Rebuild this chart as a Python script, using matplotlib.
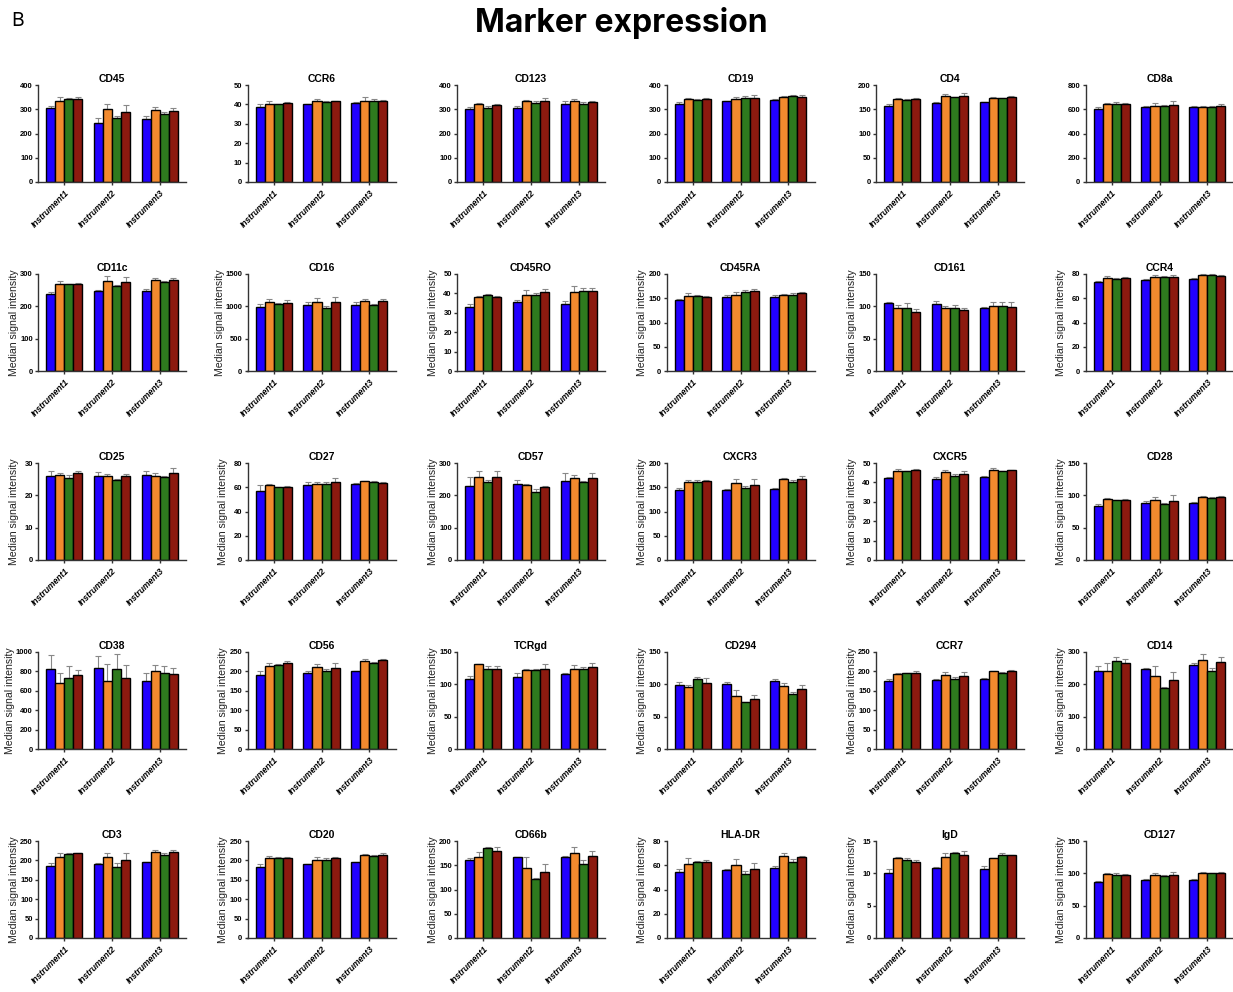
import matplotlib
matplotlib.use("Agg")
import matplotlib.pyplot as plt
import matplotlib.transforms as mtransforms
import numpy as np

plt.rcParams['font.family'] = ['Liberation Sans', 'DejaVu Sans']

# panel names, in reading order (5 rows x 6 columns)
markers = ["CD45", "CCR6", "CD123", "CD19", "CD4", "CD8a",
           "CD11c", "CD16", "CD45RO", "CD45RA", "CD161", "CCR4",
           "CD25", "CD27", "CD57", "CXCR3", "CXCR5", "CD28",
           "CD38", "CD56", "TCRgd", "CD294", "CCR7", "CD14",
           "CD3", "CD20", "CD66b", "HLA-DR", "IgD", "CD127"]

groups = ["Instrument1", "Instrument2", "Instrument3"]

# y axis range per panel
ymax = [400, 50, 400, 400, 200, 800,
        300, 1500, 50, 200, 150, 80,
        30, 80, 300, 200, 50, 150,
        1000, 250, 150, 150, 250, 300,
        250, 250, 200, 80, 15, 150]
ystep = [100, 10, 100, 100, 50, 200,
         100, 500, 10, 50, 50, 20,
         10, 20, 100, 50, 10, 50,
         200, 50, 50, 50, 50, 100,
         50, 50, 50, 20, 5, 50]

# medians: 4 bars per instrument (Instrument1 | Instrument2 | Instrument3)
cd45_med = [307, 336, 343, 343, 245, 300, 265, 288, 258, 297, 282, 294]
cd45_err = [5, 16, 4, 7, 20, 22, 7, 30, 14, 13, 5, 11]
ccr6_med = [38.8, 40.4, 40.0, 40.7, 40.0, 41.5, 41.4, 41.5, 40.6, 42.0, 41.9, 41.7]
ccr6_err = [1.3, 1.5, 0.4, 0.7, 0.4, 1.5, 0.4, 0.4, 0.4, 1.7, 1.1, 0.4]
cd123_med = [300, 321, 305, 316, 305, 333, 326, 333, 320, 333, 320, 330]
cd123_err = [10, 6, 7, 5, 9, 5, 7, 13, 12, 10, 10, 2]
cd19_med = [321, 343, 338, 341, 333, 344, 346, 347, 338, 351, 354, 351]
cd19_err = [7, 2, 4, 4, 2, 8, 9, 10, 4, 3, 3, 7]
cd4_med = [157, 171, 169, 171, 162, 177, 175, 178, 164, 173, 173, 175]
cd4_err = [3, 2, 2, 2, 2, 5, 1, 6, 1, 3, 1, 3]
cd8a_med = [603, 643, 643, 643, 615, 628, 628, 638, 622, 615, 620, 625]
cd8a_err = [15, 6, 15, 12, 12, 25, 5, 30, 6, 8, 8, 18]

cd11c_med = [237, 270, 268, 269, 248, 279, 264, 276, 247, 280, 275, 282]
cd11c_err = [7, 7, 2, 4, 4, 14, 2, 15, 6, 8, 2, 6]
cd16_med = [995, 1063, 1037, 1058, 1025, 1073, 978, 1060, 1020, 1078, 1020, 1078]
cd16_err = [40, 50, 10, 45, 40, 55, 20, 80, 40, 38, 10, 35]
cd45ro_med = [32.8, 38.4, 39.2, 38.4, 35.8, 39.2, 39.2, 40.5, 34.7, 40.6, 41.1, 41.0]
cd45ro_err = [1.8, 0.5, 0.7, 0.5, 0.7, 2.6, 1.1, 1.7, 1.5, 3.1, 1.6, 1.7]
cd45ra_med = [147, 155, 155, 153, 152, 157, 162, 164, 152, 157, 157, 160]
cd45ra_err = [2, 5, 2, 1, 4, 5, 5, 5, 5, 2, 3, 3]
cd161_med = [105, 98, 98, 92, 104, 97, 97, 94, 97, 100, 100, 99]
cd161_err = [1.5, 4, 7, 4, 4, 4, 5, 4, 2, 6, 6, 7]
ccr4_med = [73.8, 76.7, 76.1, 76.5, 75.4, 77.6, 77.8, 77.9, 75.9, 79.0, 78.8, 78.4]
ccr4_err = [0.5, 1.4, 0.9, 0.9, 0.6, 1.5, 0.7, 0.9, 1.0, 0.6, 0.8, 1.0]

cd25_med = [25.9, 26.2, 25.3, 26.9, 26.1, 26.0, 24.7, 25.9, 26.3, 26.1, 25.7, 27.0]
cd25_err = [1.7, 0.6, 0.9, 0.6, 1.0, 0.7, 0.2, 0.8, 1.3, 0.8, 0.4, 1.6]
cd27_med = [57.2, 61.5, 60.0, 60.6, 62.0, 62.6, 62.4, 64.0, 62.6, 64.8, 64.0, 63.4]
cd27_err = [4.3, 1.0, 0.5, 0.3, 2.5, 2.0, 2.2, 3.3, 1.3, 0.5, 1.2, 1.1]
cd57_med = [229, 258, 240, 258, 235, 231, 211, 227, 243, 254, 240, 254]
cd57_err = [27, 16, 7, 18, 11, 5, 10, 2, 26, 10, 3, 16]
cxcr3_med = [145, 161, 161, 163, 145, 158, 148, 155, 146, 166, 161, 167]
cxcr3_err = [3, 4, 4, 2, 2, 9, 5, 13, 3, 3, 3, 6]
cxcr5_med = [42.1, 46.0, 45.8, 46.3, 42.0, 45.2, 43.4, 44.5, 43.0, 46.3, 45.8, 46.2]
cxcr5_err = [0.8, 1.1, 0.3, 0.8, 0.9, 1.0, 1.0, 1.6, 0.3, 1.2, 0.3, 0.4]
cd28_med = [83.5, 93.7, 92.2, 92.4, 87.6, 92.2, 86.0, 91.0, 88.3, 97.8, 95.4, 97.5]
cd28_err = [2.5, 1.5, 0.5, 2.0, 3.4, 4.6, 1.6, 8.8, 1.5, 1.2, 1.4, 1.5]

cd38_med = [829, 683, 727, 758, 840, 706, 823, 737, 706, 802, 782, 771]
cd38_err = [137, 102, 126, 54, 116, 174, 153, 126, 79, 61, 71, 65]
cd56_med = [191, 215, 216, 222, 195, 211, 201, 208, 200, 228, 222, 229]
cd56_err = [9, 6, 3, 4, 5, 8, 5, 13, 1, 3, 2, 3]
tcrgd_med = [108, 131, 124, 123, 111, 122, 122, 124, 116, 123, 124, 127]
tcrgd_err = [5, 1, 4, 6, 6, 1, 1, 8, 2, 7, 3, 6]
cd294_med = [99, 96, 109, 102, 100, 82, 72, 77, 105, 97, 85, 93]
cd294_err = [5, 3, 3, 8, 4, 9, 1, 7, 3, 5, 3, 6]
ccr7_med = [175, 193, 195, 196, 179, 191, 180, 188, 181, 200, 197, 200]
ccr7_err = [5, 4, 2, 4, 1, 7, 5, 11, 1, 1, 1, 4]
cd14_med = [242, 240, 273, 267, 248, 227, 190, 214, 260, 276, 240, 270]
cd14_err = [15, 27, 10, 11, 1, 31, 3, 25, 6, 18, 11, 14]

cd3_med = [186, 210, 216, 218, 191, 209, 184, 200, 195, 221, 215, 222]
cd3_err = [7, 9, 4, 2, 3, 11, 9, 20, 2, 6, 3, 5]
cd20_med = [184, 207, 205, 205, 191, 202, 201, 205, 195, 213, 211, 214]
cd20_err = [7, 4, 3, 3, 1, 6, 5, 5, 2, 4, 3, 4]
cd66b_med = [160, 168, 185, 179, 166, 145, 121, 136, 168, 175, 153, 170]
cd66b_err = [5, 10, 3, 8, 1, 21, 3, 17, 1, 13, 8, 10]
hladr_med = [54.5, 61, 63, 63, 56, 60, 52.5, 56.5, 57.5, 68, 63, 67]
hladr_err = [2.5, 5, 0.5, 1, 1, 5.5, 2.5, 5.5, 2, 2, 2.5, 1]
igd_med = [10.1, 12.3, 12.0, 11.7, 10.9, 12.6, 13.2, 12.9, 10.7, 12.3, 12.8, 12.8]
igd_err = [0.5, 0.3, 0.4, 0.3, 0.1, 0.5, 0.1, 0.6, 0.4, 0.1, 0.3, 0.1]
cd127_med = [87, 99.5, 98, 98, 90, 98, 96, 98, 90, 101, 100, 101]
cd127_err = [1, 0.5, 2, 1, 1, 3, 1, 4, 1, 1, 1, 1]

medians = [cd45_med, ccr6_med, cd123_med, cd19_med, cd4_med, cd8a_med,
           cd11c_med, cd16_med, cd45ro_med, cd45ra_med, cd161_med, ccr4_med,
           cd25_med, cd27_med, cd57_med, cxcr3_med, cxcr5_med, cd28_med,
           cd38_med, cd56_med, tcrgd_med, cd294_med, ccr7_med, cd14_med,
           cd3_med, cd20_med, cd66b_med, hladr_med, igd_med, cd127_med]
errors = [cd45_err, ccr6_err, cd123_err, cd19_err, cd4_err, cd8a_err,
          cd11c_err, cd16_err, cd45ro_err, cd45ra_err, cd161_err, ccr4_err,
          cd25_err, cd27_err, cd57_err, cxcr3_err, cxcr5_err, cd28_err,
          cd38_err, cd56_err, tcrgd_err, cd294_err, ccr7_err, cd14_err,
          cd3_err, cd20_err, cd66b_err, hladr_err, igd_err, cd127_err]

colors = ["#2200ff", "#f28a2e", "#2e7a1e", "#8c1a0f"]

W, H = 1233, 992
fig = plt.figure(figsize=(W / 100, H / 100), dpi=100)

fig.text(0.504, 0.977, "Marker expression", ha="center", va="center",
         fontsize=23, fontweight="bold", family=["Inter", "DejaVu Sans"])
fig.text(0.009, 0.979, "B", ha="left", va="center", fontsize=14,
         family=["Inter", "DejaVu Sans"])

x = np.arange(len(groups))
bw = 0.19
offsets = (np.arange(4) - 1.5) * bw
# nudge the slanted group labels a little to the right of their ticks
label_shift = mtransforms.ScaledTranslation(7 / 100, 0, fig.dpi_scale_trans)

for i, name in enumerate(markers):
    r, c = divmod(i, 6)
    left = (38 + 209.5 * c) / W
    bottom = 1 - (182 + 189 * r) / H
    ax = fig.add_axes([left, bottom, 148 / W, 97 / H])

    med = np.array(medians[i]).reshape(3, 4)
    err = np.array(errors[i]).reshape(3, 4)
    for k in range(4):
        ax.bar(x + offsets[k], med[:, k], bw, color=colors[k],
               edgecolor="black", linewidth=1.0, zorder=2)
        ax.errorbar(x + offsets[k], med[:, k],
                    yerr=[np.zeros(3), err[:, k]], fmt="none",
                    ecolor="#888888", elinewidth=0.8, capsize=2,
                    capthick=0.8, zorder=1, clip_on=False)

    ax.set_xlim(-0.55, 2.55)
    ax.set_ylim(0, ymax[i])
    ax.set_yticks(np.arange(0, ymax[i] + ystep[i] / 2, ystep[i]))
    ax.set_xticks(x)
    ax.set_xticklabels(groups, rotation=45, ha="right", va="top",
                       rotation_mode="anchor", fontsize=6.2,
                       fontweight="bold", fontstyle="italic")
    for t in ax.get_xticklabels():
        t.set_transform(t.get_transform() + label_shift)
    for t in ax.get_yticklabels():
        t.set_fontsize(5.5)
        t.set_fontweight("bold")
    ax.set_title(name, fontsize=7.5, fontweight="bold", pad=2.5)

    for s in ["top", "right"]:
        ax.spines[s].set_visible(False)
    for s in ["left", "bottom"]:
        ax.spines[s].set_linewidth(1.0)
        ax.spines[s].set_color("#333333")
    ax.tick_params(axis="y", length=2.5, width=1.0, color="#333333", pad=1.2)
    ax.tick_params(axis="x", length=2.5, width=1.0, color="#333333", pad=2)

    if r > 0:
        ax.set_ylabel("Median signal intensity", fontsize=7.6, color="#222222")
        ax.yaxis.set_label_coords(-0.155 if ymax[i] >= 1000 else -0.13, 0.5)

fig.savefig("out.png", dpi=100)
